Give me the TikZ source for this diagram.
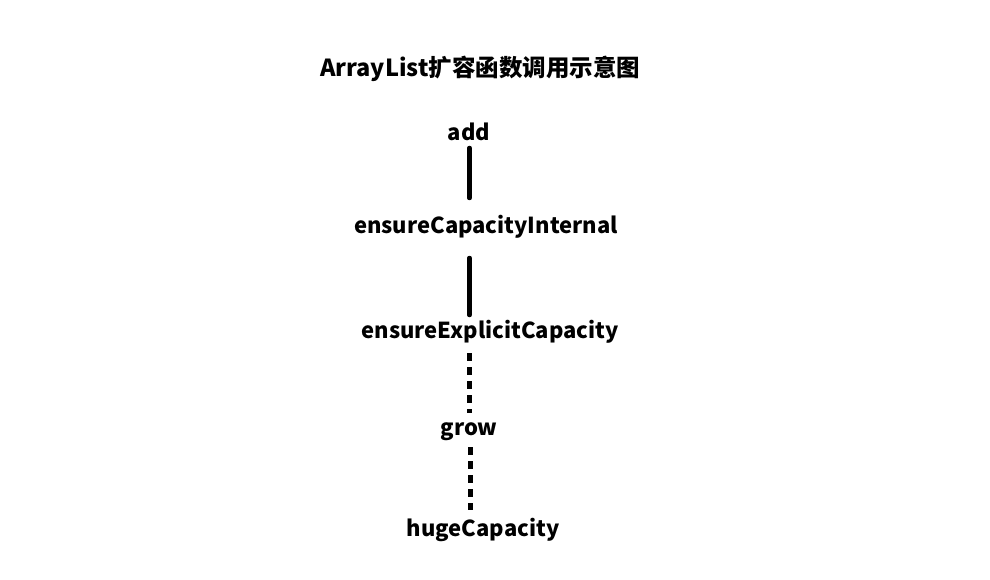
\documentclass[tikz,border=0pt]{standalone}
\usepackage{fontspec}
\setmainfont{Noto Sans CJK SC}
\usetikzlibrary{calc}
\begin{document}
\begin{tikzpicture}[x=1pt,y=-1pt,
  lbl/.style={font=\fontsize{22}{26}\selectfont\bfseries, inner sep=0pt, text=black},
  ttl/.style={font=\fontsize{23.5}{27}\selectfont\bfseries, inner sep=0pt, text=black},
  solidlink/.style={line width=4.5pt, line cap=round, black},
  dashlink/.style={line width=4.5pt, black, dash pattern=on 8pt off 6pt}]
\useasboundingbox[fill=white] (0,0) rectangle (990,580);
\node[ttl] (title) at (480,69) {ArrayList扩容函数调用示意图};
\node[lbl] (add) at (469,132) {add};
\node[lbl] (ici) at (486,227) {ensureCapacityInternal};
\node[lbl] (iec) at (490,332) {ensureExplicitCapacity};
\node[lbl] (grow) at (469,432) {grow};
\node[lbl] (huge) at (483,530) {hugeCapacity};
\draw[solidlink] ($(add.center)+(0.5,16)$) -- ($(add.center |- ici.center)+(0.5,-29)$);
\draw[solidlink] ($(add.center |- ici.center)+(0.5,31)$) -- ($(add.center |- iec.center)+(0.5,-17)$);
\draw[dashlink] ($(add.center |- iec.center)+(0.5,21)$) -- ($(grow.center)+(0.5,-19)$);
\draw[dashlink] ($(grow.center)+(1.5,15)$) -- ($(grow.center |- huge.center)+(1.5,-20)$);
\end{tikzpicture}
\end{document}
